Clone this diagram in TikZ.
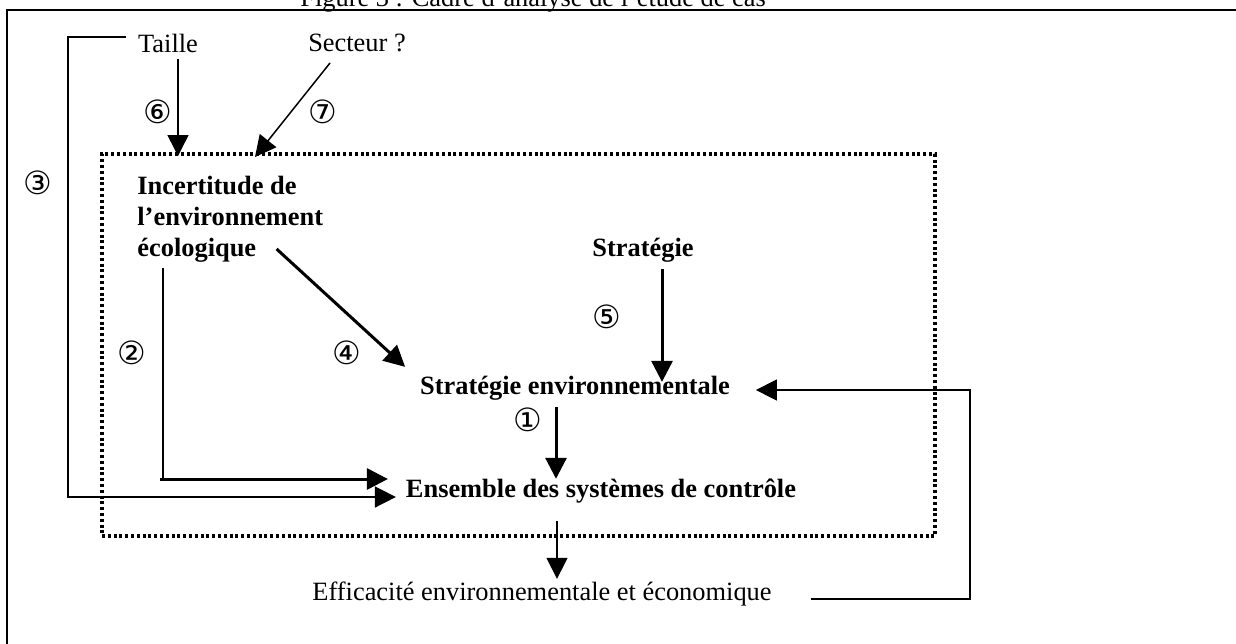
\documentclass[tikz,border=0pt]{standalone}
\usepackage{fontspec}
\setmainfont{Liberation Serif}
\newfontfamily\cercle{DejaVu Sans}
\usepackage{tikz}
\usetikzlibrary{positioning}
\usetikzlibrary{arrows.meta}
\usepackage{xcolor}

\begin{document}
\begin{tikzpicture}[x=0.5pt, y=-0.5pt,
		font=\fontsize{13.2}{15.5}\selectfont,
		filfin/.style={line width=0.75pt},
		filepais/.style={line width=1.5pt},
		fleche/.style={-{Triangle[length=10.5pt,width=10.5pt]}},
		gras/.style={font=\fontsize{13.2}{15.5}\selectfont\bfseries},
		rond/.style={font=\fontsize{16}{18}\selectfont\cercle, inner sep=0pt},
		pointille/.style={draw, line width=1.6pt, dash pattern=on 1.5pt off 1.4pt, minimum width=416.5pt, minimum height=191pt, inner sep=0pt, outer sep=0pt}]
				    		\useasboundingbox (0,0) rectangle (1236,643);
				    		\draw[line width=1.2pt] (7,10) rectangle (1300,700);
				    		\node[anchor=base west, inner sep=0pt] (titre) at (300,6) {Figure 3 :  Cadre d'analyse de l'étude de cas};
				    		\node (taille) at (168,43) {Taille};
				    		\node (secteur) at (357,43) {Secteur ?};
				    		\node[pointille] (cadre) at (518.5,345) {};
				    		\node[gras, align=left, anchor=north west, inner sep=0pt] (incert) at (137,176) {Incertitude de\\l’environnement\\écologique};
				    		\node[gras] (strat) at (643,250) {Stratégie};
				    		\node[gras] (stratenv) at (575,388) {Stratégie environnementale};
				    		\node[gras] (ensemble) at (601,491) {Ensemble des systèmes de contrôle};
				    		\node (efficacite) at (542,594) {Efficacité environnementale et économique};
				    		\node[rond] (n1) at (528,420) {①};
				    		\node[rond] (n2) at (132,353) {②};
				    		\node[rond] (n3) at (38,183) {③};
				    		\node[rond] (n4) at (347,353) {④};
				    		\node[rond] (n5) at (607,317) {⑤};
				    		\node[rond] (n6) at (158,112) {⑥};
				    		\node[rond] (n7) at (323,112) {⑦};
				    		% points de depart et d'arrivee des fleches
				    		\coordinate (d6) at ([xshift=5pt]taille.south);
				    		\coordinate (d7) at ([xshift=-13.5pt,yshift=-2pt]secteur.south);
				    		\coordinate (e7) at ([xshift=76.5pt,yshift=-1.5pt]cadre.north west);
				    		\coordinate (d3) at ([xshift=-2.5pt,yshift=3pt]taille.west);
				    		\coordinate (e3) at ([xshift=-1.5pt,yshift=-3pt]ensemble.west);
				    		\coordinate (coude3) at (68,0);
				    		\coordinate (d2) at ([xshift=13pt,yshift=-2.5pt]incert.south west);
				    		\coordinate (e2) at ([xshift=-5.5pt,yshift=6pt]ensemble.west);
				    		\coordinate (c2) at (d2 |- e2);
				    		\coordinate (d4) at ([xshift=-23.5pt,yshift=7pt]incert.south east);
				    		\coordinate (e4) at ([xshift=-4pt,yshift=1pt]stratenv.north west);
				    		\coordinate (d5) at ([xshift=9.5pt]strat.south);
				    		\coordinate (d1) at ([xshift=-9.5pt]stratenv.south);
				    		\coordinate (d8) at ([xshift=-22pt,yshift=-5.5pt]ensemble.south);
				    		\coordinate (d9) at ([xshift=16pt,yshift=-2.5pt]efficacite.east);
				    		\coordinate (e9) at ([xshift=9.5pt,yshift=-1pt]stratenv.east);
				    		\coordinate (coude9) at (970,0);
				    		\draw[filfin, fleche] (d6) -- ([yshift=-1pt]d6 |- cadre.north);
				    		\draw[filfin, fleche] (d7) -- (e7);
				    		\draw[filfin, fleche] (d3) -| (e3 -| coude3) -- (e3);
				    		\draw[filfin] (d2) -- (c2);
				    		\draw[filepais, fleche] ([xshift=-1.5pt]c2) -- (e2);
				    		\draw[filepais, fleche] (d4) -- (e4);
				    		\draw[filepais, fleche] (d5) -- ([yshift=-6.5pt]d5 |- stratenv.north);
				    		\draw[filepais, fleche] (d1) -- ([yshift=-3.5pt]d1 |- ensemble.north);
				    		\draw[filfin, fleche] (d8) -- ([yshift=-2pt]d8 |- efficacite.north);
				    		\draw[filfin, fleche] (d9) -| (coude9 |- e9) -- (e9);
				    	\end{tikzpicture}
\end{document}
